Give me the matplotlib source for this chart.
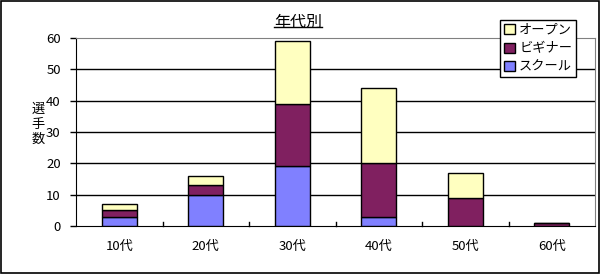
import matplotlib
matplotlib.use("Agg")
import matplotlib.pyplot as plt
import numpy as np
from matplotlib.lines import Line2D
from matplotlib.patches import Rectangle

plt.rcParams["font.family"] = ["Noto Sans CJK JP", "DejaVu Sans"]

categories = ["10代", "20代", "30代", "40代", "50代", "60代"]
school = [3, 10, 19, 3, 0, 0]
beginner = [2, 3, 20, 17, 9, 1]
open_ = [2, 3, 20, 24, 8, 0]
yticks = [0, 10, 20, 30, 40, 50, 60]

colors = {"school": "#8080FF", "beginner": "#802060", "open": "#FFFFC0"}

fig = plt.figure(figsize=(6.0, 2.74), dpi=100)
ax = fig.add_axes([76 / 600, 1 - 226 / 274, 519 / 600, 188 / 274])

x = np.arange(len(categories))
w = 0.41
s = np.array(school)
b = np.array(beginner)
o = np.array(open_)
ax.bar(x, s, w, color=colors["school"], edgecolor="black", linewidth=1, zorder=3)
ax.bar(x, b, w, bottom=s, color=colors["beginner"], edgecolor="black", linewidth=1, zorder=3)
ax.bar(x, o, w, bottom=s + b, color=colors["open"], edgecolor="black", linewidth=1, zorder=3)

ax.set_xlim(-0.5, len(categories) - 0.5)
ax.set_ylim(0, 60)
ax.set_yticks(yticks)
ax.set_yticklabels([str(t) for t in yticks], fontsize=9.5)
for t in yticks[1:-1]:
    ax.axhline(t, color="black", linewidth=1, zorder=1)

ax.set_xticks(x)
ax.set_xticklabels(categories, fontsize=9.5)
ax.tick_params(axis="x", length=0, pad=10)
ax.tick_params(axis="y", length=4, width=1, pad=7)
# category boundary ticks on the x axis
for xb in np.arange(0.5, len(categories) - 0.5, 1.0):
    ax.plot([xb, xb], [0, 1.2], color="black", linewidth=1, zorder=2, clip_on=False)

for side in ("top", "right"):
    ax.spines[side].set_color("#808080")
for side in ("left", "bottom"):
    ax.spines[side].set_color("black")

ax.text(-0.073, 0.54, "選\n手\n数", transform=ax.transAxes, fontsize=9.5,
        ha="center", va="center", linespacing=1.2)

title = fig.text(0.497, 1 - 22 / 274, "年代別", fontsize=11.5, ha="center", va="center")
fig.canvas.draw()
bb = title.get_window_extent().transformed(fig.transFigure.inverted())
fig.add_artist(Line2D([bb.x0, bb.x1], [bb.y0 + 0.012, bb.y0 + 0.012],
                      transform=fig.transFigure, color="black", linewidth=1))

handles = [Rectangle((0, 0), 1, 1, facecolor=colors["open"], edgecolor="black"),
           Rectangle((0, 0), 1, 1, facecolor=colors["beginner"], edgecolor="black"),
           Rectangle((0, 0), 1, 1, facecolor=colors["school"], edgecolor="black")]
leg = fig.legend(handles, ["オープン", "ビギナー", "スクール"], loc="upper left",
                 bbox_to_anchor=(500 / 600, 1 - 20 / 274), fontsize=9.5,
                 handlelength=0.8, handleheight=0.8, handletextpad=0.35,
                 borderpad=0.3, labelspacing=0.4, fancybox=False,
                 framealpha=1, edgecolor="black", borderaxespad=0)
leg.get_frame().set_linewidth(1)

fig.add_artist(Rectangle((0.001, 0.002), 0.997, 0.995, transform=fig.transFigure,
                         fill=False, edgecolor="black", linewidth=1.2))

fig.savefig("out.png", dpi=100)
